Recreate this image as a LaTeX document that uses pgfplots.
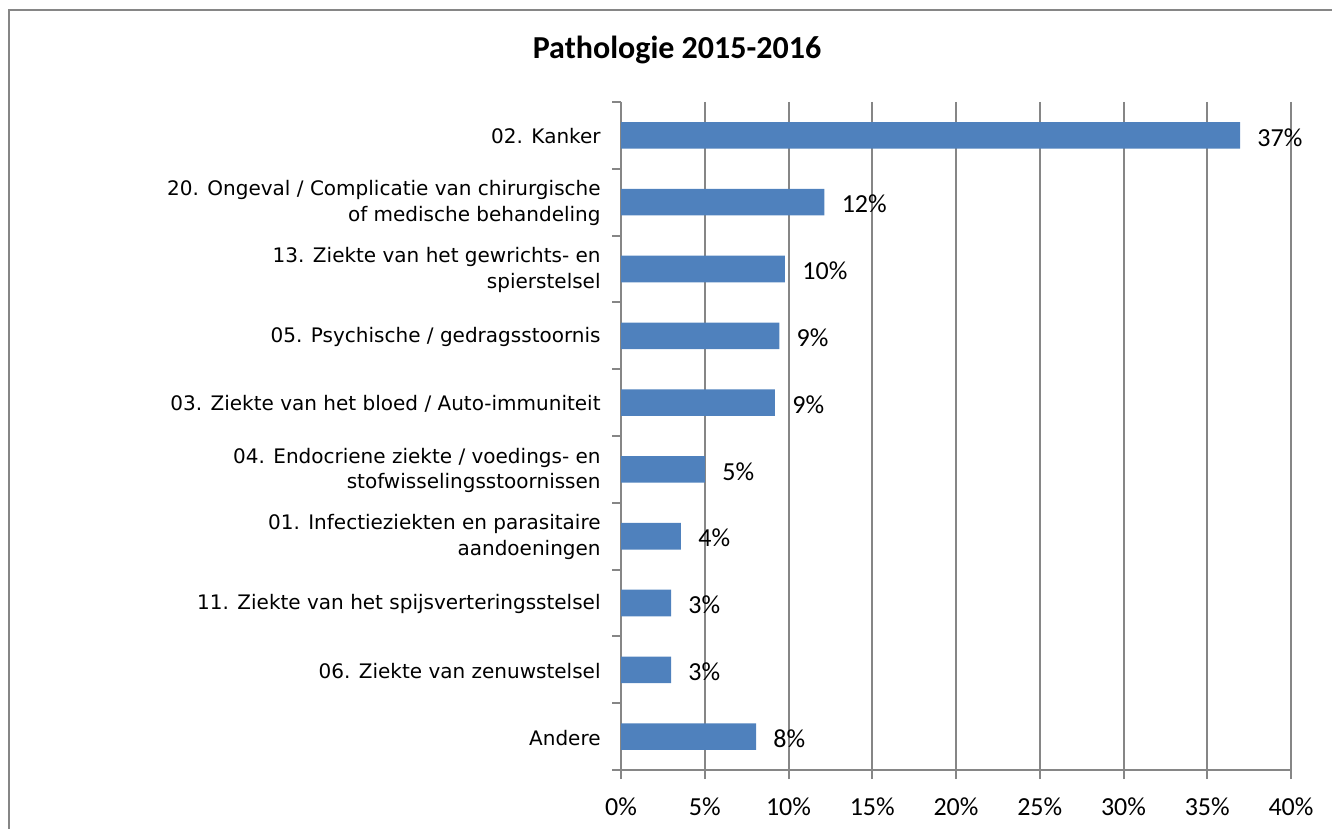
\documentclass[border=0pt]{standalone}
\usepackage{pgfplots}
\usepackage{pgfplotstable}
\usepackage{fontspec}
\pgfplotsset{compat=1.18}
\setmainfont{Carlito}
\newfontfamily\verd{DejaVu Sans}
\definecolor{BarBlue}{HTML}{4F81BD}
\definecolor{AxisGray}{HTML}{868686}

% pos = row (top to bottom), value in %, pct = printed label
\pgfplotstableread{
pos value pct
0 36.96 37
1 12.14 12
2 9.79 10
3 9.45 9
4 9.19 9
5 5.01 5
6 3.58 4
7 2.99 3
8 2.99 3
9 8.06 8
}\pathdata

\begin{document}
\begin{tikzpicture}
  \useasboundingbox (0,0) rectangle (666pt,414.5pt);
  \draw[AxisGray, line width=1pt] (4.25pt,-5pt) -- (4.25pt,409.5pt) -- (700pt,409.5pt);
  \node[font=\bfseries\fontsize{16}{19}\selectfont] at (338.5pt,389.5pt) {Pathologie 2015-2016};
  \begin{axis}[
      at={(310.5pt,29.5pt)}, anchor=south west,
      scale only axis,
      width=335pt, height=334pt,
      xbar,
      bar width=13.3pt,
      xmin=0, xmax=40,
      ymin=-0.5, ymax=9.5,
      y dir=reverse,
      axis x line*=bottom,
      axis y line*=left,
      axis line style={AxisGray, line width=1pt, -},
      xtick={0,5,...,40},
      xticklabels={0\%,5\%,10\%,15\%,20\%,25\%,30\%,35\%,40\%},
      ytick={-0.5,0.5,...,9.5},
      yticklabels={},
      tick align=outside,
      major tick length=4.5pt,
      tick style={AxisGray, line width=1pt},
      xmajorgrids,
      major grid style={AxisGray, line width=1pt},
      /pgf/number format/assume math mode=true,
      xticklabel style={font=\fontsize{13}{15}\selectfont, anchor=north, inner sep=0pt, yshift=-9pt},
      extra y ticks={0,1,...,9},
      extra y tick labels={
        {02. Kanker},
        {20. Ongeval / Complicatie van chirurgische\\of medische behandeling},
        {13. Ziekte van het gewrichts- en\\spierstelsel},
        {05. Psychische / gedragsstoornis},
        {03. Ziekte van het bloed / Auto-immuniteit},
        {04. Endocriene ziekte / voedings- en\\stofwisselingsstoornissen},
        {01. Infectieziekten en parasitaire\\aandoeningen},
        {11. Ziekte van het spijsverteringsstelsel},
        {06. Ziekte van zenuwstelsel},
        {Andere}},
      extra y tick style={major tick length=0pt, grid=none,
        yticklabel style={font=\verd\fontsize{10}{12.8}\selectfont, align=right, anchor=east, inner sep=0pt, xshift=-10pt, yshift=-0.5pt}},
      nodes near coords={\pgfmathprintnumber[fixed,precision=0]{\pgfplotspointmeta}\%},
      point meta=explicit,
      every node near coord/.append style={font=\fontsize{13}{15}\selectfont, anchor=west, inner sep=0pt, xshift=8.5pt, yshift=-1pt, black},
    ]
    \addplot[fill=BarBlue, draw=none] table[x=value, y=pos, meta=pct] {\pathdata};
  \end{axis}
\end{tikzpicture}
\end{document}
